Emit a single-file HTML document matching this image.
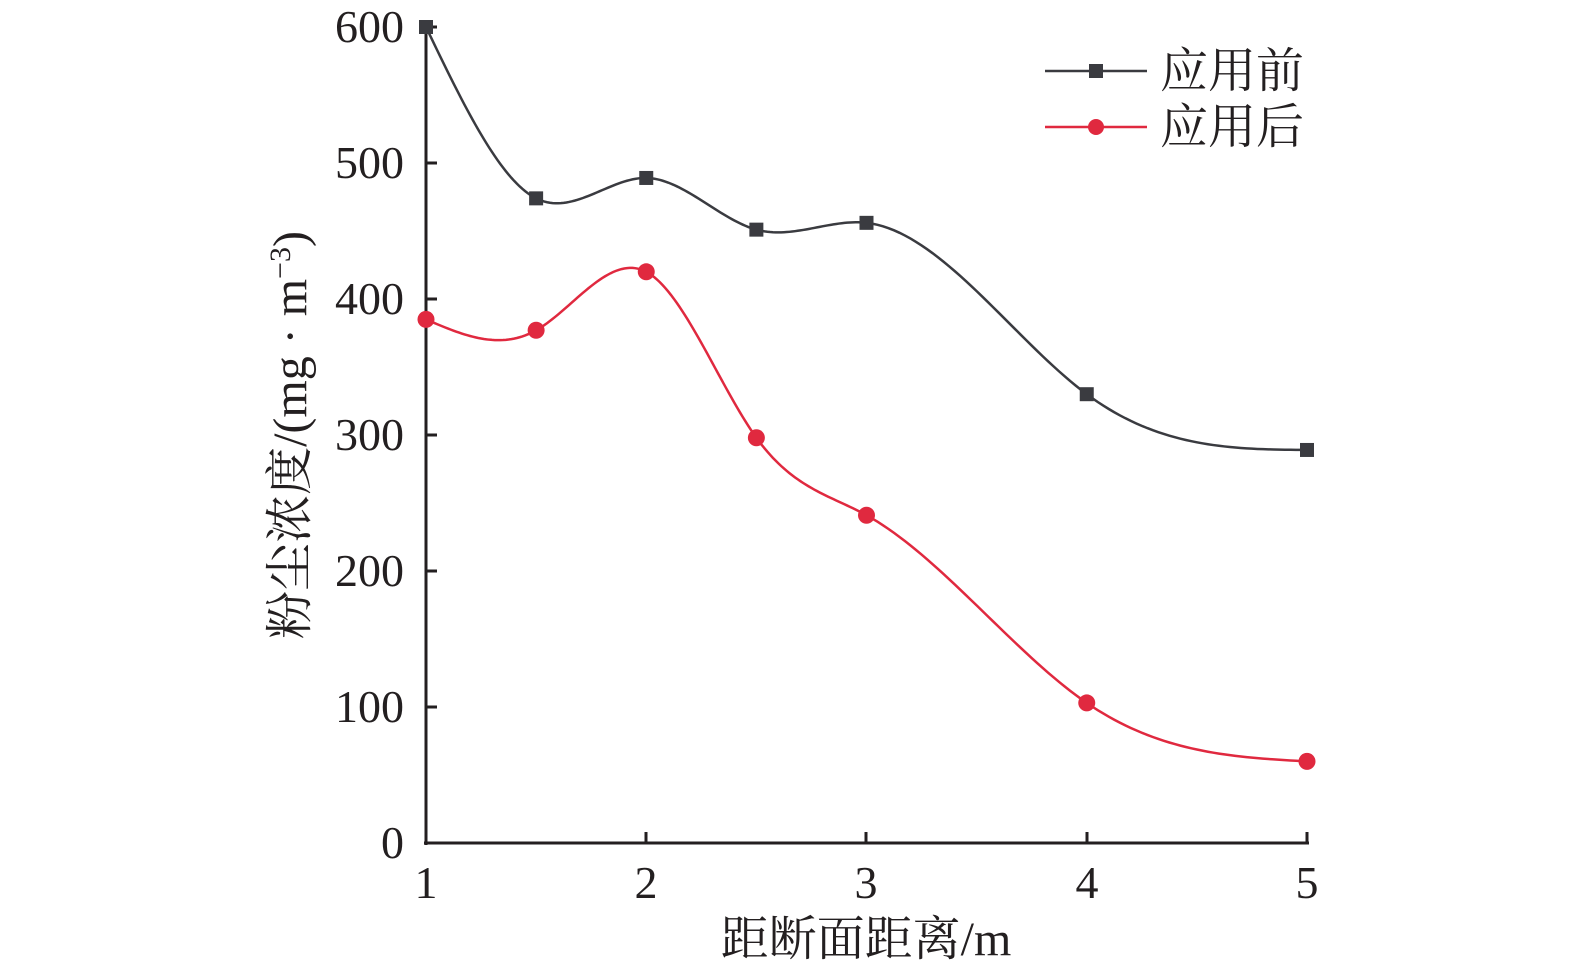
<!DOCTYPE html>
<html><head><meta charset="utf-8"><style>
html,body{margin:0;padding:0;background:#fff;}
svg{display:block;}
text{font-family:"Liberation Serif","Noto Serif CJK SC",serif;fill:#231f20;}
</style></head><body>
<svg id="s" width="1575" height="974" viewBox="0 0 1575 974" xmlns="http://www.w3.org/2000/svg">
<g font-size="46" text-anchor="end">
<text x="404" y="42">600</text>
<text x="404" y="178">500</text>
<text x="404" y="314">400</text>
<text x="404" y="450">300</text>
<text x="404" y="586">200</text>
<text x="404" y="722">100</text>
<text x="404" y="858">0</text>
</g>
<g font-size="46" text-anchor="middle">
<text x="426" y="898">1</text>
<text x="646" y="898">2</text>
<text x="866" y="898">3</text>
<text x="1087" y="898">4</text>
<text x="1307" y="898">5</text>
</g>
<text x="866" y="955" font-size="48" text-anchor="middle">距断面距离/m</text>
<text font-size="48" text-anchor="middle" transform="translate(306,435) rotate(-90)">粉尘浓度/(mg · m<tspan dy="-16" font-size="30">−3</tspan><tspan dy="16">)</tspan></text>
<g stroke="#231f20" stroke-width="3" fill="none">
<line x1="426" y1="25" x2="426" y2="845"/>
<line x1="424" y1="843" x2="1309" y2="843"/>
<line x1="426" y1="27" x2="437" y2="27"/>
<line x1="426" y1="163" x2="437" y2="163"/>
<line x1="426" y1="299" x2="437" y2="299"/>
<line x1="426" y1="435" x2="437" y2="435"/>
<line x1="426" y1="571" x2="437" y2="571"/>
<line x1="426" y1="707" x2="437" y2="707"/>
<line x1="646" y1="843" x2="646" y2="832"/>
<line x1="866" y1="843" x2="866" y2="832"/>
<line x1="1087" y1="843" x2="1087" y2="832"/>
<line x1="1307" y1="843" x2="1307" y2="832"/>
</g>
<g id="series"></g>
<line x1="1045" y1="71" x2="1147" y2="71" stroke="#3a3b40" stroke-width="2.5"/>
<rect x="1089" y="64" width="14" height="14" fill="#3a3b40"/>
<text x="1160" y="87" font-size="48">应用前</text>
<line x1="1045" y1="127" x2="1147" y2="127" stroke="#e0293f" stroke-width="2.5"/>
<circle cx="1096" cy="127" r="8" fill="#e0293f"/>
<text x="1160" y="143" font-size="48">应用后</text>
</svg>
<script>
function X(v){return 426+(v-1)*220.25;}
function Y(v){return 843-v*1.36;}
function spline(pts){
 var n=pts.length,x=pts.map(a=>a[0]),y=pts.map(a=>a[1]);
 var h=[],al=[],l=[1],mu=[0],z=[0],c=new Array(n).fill(0),b=[],d=[];
 for(var i=0;i<n-1;i++)h[i]=x[i+1]-x[i];
 for(i=1;i<n-1;i++)al[i]=3/h[i]*(y[i+1]-y[i])-3/h[i-1]*(y[i]-y[i-1]);
 for(i=1;i<n-1;i++){l[i]=2*(x[i+1]-x[i-1])-h[i-1]*mu[i-1];mu[i]=h[i]/l[i];z[i]=(al[i]-h[i-1]*z[i-1])/l[i];}
 l[n-1]=1;z[n-1]=0;c[n-1]=0;
 for(var j=n-2;j>=0;j--){c[j]=z[j]-mu[j]*c[j+1];b[j]=(y[j+1]-y[j])/h[j]-h[j]*(c[j+1]+2*c[j])/3;d[j]=(c[j+1]-c[j])/(3*h[j]);}
 var s="";
 for(i=0;i<n-1;i++){
  for(var k=0;k<=40;k++){
   var t=h[i]*k/40,v=y[i]+b[i]*t+c[i]*t*t+d[i]*t*t*t;
   s+=(s?" L":"M")+X(x[i]+t).toFixed(2)+","+Y(v).toFixed(2);
  }
 }
 return s;
}
var A=[[1,600],[1.5,474],[2,489],[2.5,451],[3,456],[4,330],[5,289]];
var B=[[1,385],[1.5,377],[2,420],[2.5,298],[3,241],[4,103],[5,60]];
var g=document.getElementById("series"),h="";
h+='<path d="'+spline(A)+'" fill="none" stroke="#3a3b40" stroke-width="2.5"/>';
h+='<path d="'+spline(B)+'" fill="none" stroke="#e0293f" stroke-width="2.5"/>';
A.forEach(function(a){h+='<rect x="'+(X(a[0])-7)+'" y="'+(Y(a[1])-7)+'" width="14" height="14" fill="#3a3b40"/>';});
B.forEach(function(a){h+='<circle cx="'+X(a[0])+'" cy="'+Y(a[1])+'" r="8.5" fill="#e0293f"/>';});
g.innerHTML=h;
</script>
</body></html>
